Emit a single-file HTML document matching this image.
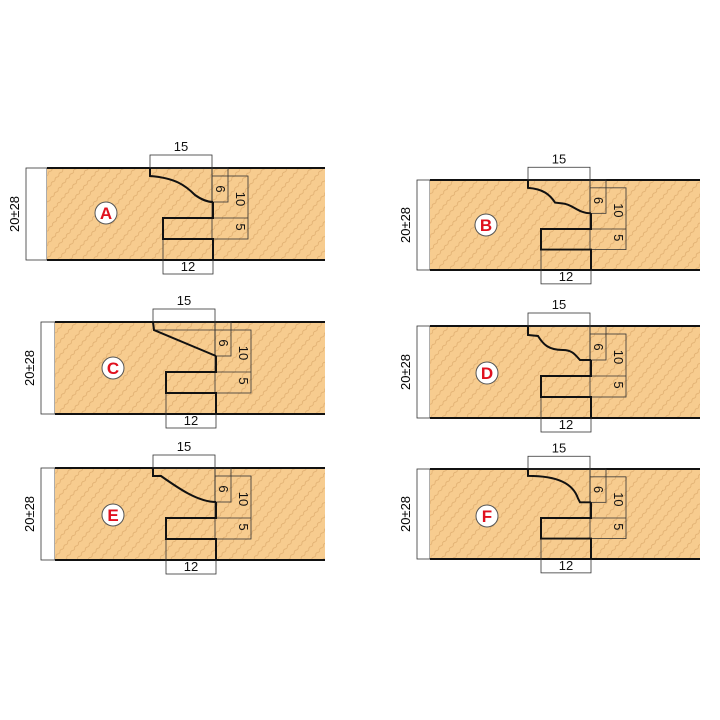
<!DOCTYPE html>
<html><head><meta charset="utf-8"><style>
html,body{margin:0;padding:0;background:#fff;}
svg{display:block;font-family:"Liberation Sans",sans-serif;}
</style></head><body>
<svg width="720" height="720" viewBox="0 0 720 720" xmlns="http://www.w3.org/2000/svg">
<defs>
<pattern id="w" width="12" height="9" patternUnits="userSpaceOnUse" patternTransform="rotate(-50)">
<rect width="12" height="9" fill="#f7cc8f"/>
<path d="M0,4.5 C3,2 3,7 6,4.5 C9,2 9,7 12,4.5" stroke="#dcaa6c" stroke-width="0.8" fill="none"/>
</pattern>
<g id="dims" fill="none" stroke="#333" stroke-width="0.8">
<rect x="0" y="-13" width="62" height="13"/>
<line x1="62" y1="0" x2="62" y2="34"/>
<rect x="62" y="0" width="16" height="34"/>
<rect x="62" y="8" width="36" height="63"/>
<line x1="63" y1="50" x2="98" y2="50"/>
<rect x="13" y="71" width="50" height="35"/>
</g>
<g id="labels" font-size="13" fill="#111">
<text x="31" y="-17" text-anchor="middle">15</text>
<text x="38" y="103" text-anchor="middle">12</text>
<text transform="translate(66,21) rotate(90)" text-anchor="middle">6</text>
<text transform="translate(86,31) rotate(90)" text-anchor="middle">10</text>
<text transform="translate(86,59) rotate(90)" text-anchor="middle">5</text>
</g>
<path id="lower" d="M63,34 L63,50 L13,50 L13,71 L63,71 L63,92" fill="none" stroke="#111" stroke-width="2"/>
</defs>

<!-- A -->
<g>
<rect x="26" y="168" width="21" height="92" fill="#fff" stroke="#333" stroke-width="0.8"/>
<rect x="47" y="168" width="278" height="92" fill="url(#w)"/>
<line x1="47" y1="168" x2="325" y2="168" stroke="#111" stroke-width="2"/>
<line x1="47" y1="260" x2="325" y2="260" stroke="#111" stroke-width="2"/>
<text transform="translate(19,214) rotate(-90)" text-anchor="middle" font-size="13">20±28</text>
<g transform="translate(150,168)">
<use href="#dims"/><use href="#labels"/><use href="#lower"/>
<path d="M0,0 L0,8 C25,10 35,17 45,27 C52,32 58,34 63,34" fill="none" stroke="#111" stroke-width="2"/>
</g>
<circle cx="106" cy="213" r="11" fill="#fff" stroke="#555"/>
<text x="106" y="219" text-anchor="middle" font-size="17" font-weight="bold" fill="#e0101e">A</text>
</g>

<!-- B -->
<g>
<rect x="417" y="180" width="13" height="90" fill="#fff" stroke="#333" stroke-width="0.8"/>
<rect x="430" y="180" width="270" height="90" fill="url(#w)"/>
<line x1="430" y1="180" x2="700" y2="180" stroke="#111" stroke-width="2"/>
<line x1="430" y1="270" x2="700" y2="270" stroke="#111" stroke-width="2"/>
<text transform="translate(410,225) rotate(-90)" text-anchor="middle" font-size="13">20±28</text>
<g transform="translate(528,180) scale(1,0.98)">
<use href="#dims"/><use href="#labels"/><use href="#lower"/>
<path d="M0,0 L0,8 C15,9 22,15 27,23 L35,24 C45,25 50,34 63,34" fill="none" stroke="#111" stroke-width="2"/>
</g>
<circle cx="486" cy="225" r="11" fill="#fff" stroke="#555"/>
<text x="486" y="231" text-anchor="middle" font-size="17" font-weight="bold" fill="#e0101e">B</text>
</g>

<!-- C -->
<g>
<rect x="41" y="322" width="14" height="92" fill="#fff" stroke="#333" stroke-width="0.8"/>
<rect x="55" y="322" width="270" height="92" fill="url(#w)"/>
<line x1="55" y1="322" x2="325" y2="322" stroke="#111" stroke-width="2"/>
<line x1="55" y1="414" x2="325" y2="414" stroke="#111" stroke-width="2"/>
<text transform="translate(34,368) rotate(-90)" text-anchor="middle" font-size="13">20±28</text>
<g transform="translate(153,322)">
<use href="#dims"/><use href="#labels"/><use href="#lower"/>
<line x1="2" y1="8" x2="62" y2="8" stroke="#333" stroke-width="0.8"/>
<path d="M0,0 L1,8 L63,34" fill="none" stroke="#111" stroke-width="2"/>
</g>
<circle cx="113" cy="368" r="11" fill="#fff" stroke="#555"/>
<text x="113" y="374" text-anchor="middle" font-size="17" font-weight="bold" fill="#e0101e">C</text>
</g>

<!-- D -->
<g>
<rect x="417" y="326" width="13" height="92" fill="#fff" stroke="#333" stroke-width="0.8"/>
<rect x="430" y="326" width="270" height="92" fill="url(#w)"/>
<line x1="430" y1="326" x2="700" y2="326" stroke="#111" stroke-width="2"/>
<line x1="430" y1="418" x2="700" y2="418" stroke="#111" stroke-width="2"/>
<text transform="translate(410,372) rotate(-90)" text-anchor="middle" font-size="13">20±28</text>
<g transform="translate(528,326)">
<use href="#dims"/><use href="#labels"/><use href="#lower"/>
<path d="M0,0 L0,9 L10,10 C15,18 20,24 35,24 C45,24 48,30 52,34 L63,34" fill="none" stroke="#111" stroke-width="2"/>
</g>
<circle cx="487" cy="373" r="11" fill="#fff" stroke="#555"/>
<text x="487" y="379" text-anchor="middle" font-size="17" font-weight="bold" fill="#e0101e">D</text>
</g>

<!-- E -->
<g>
<rect x="41" y="468" width="14" height="92" fill="#fff" stroke="#333" stroke-width="0.8"/>
<rect x="55" y="468" width="270" height="92" fill="url(#w)"/>
<line x1="55" y1="468" x2="325" y2="468" stroke="#111" stroke-width="2"/>
<line x1="55" y1="560" x2="325" y2="560" stroke="#111" stroke-width="2"/>
<text transform="translate(34,514) rotate(-90)" text-anchor="middle" font-size="13">20±28</text>
<g transform="translate(153,468)">
<use href="#dims"/><use href="#labels"/><use href="#lower"/>
<path d="M0,0 L0,8 L8,8 C25,20 45,34 63,34" fill="none" stroke="#111" stroke-width="2"/>
</g>
<circle cx="113" cy="515" r="11" fill="#fff" stroke="#555"/>
<text x="113" y="521" text-anchor="middle" font-size="17" font-weight="bold" fill="#e0101e">E</text>
</g>

<!-- F -->
<g>
<rect x="417" y="469" width="13" height="90" fill="#fff" stroke="#333" stroke-width="0.8"/>
<rect x="430" y="469" width="270" height="90" fill="url(#w)"/>
<line x1="430" y1="469" x2="700" y2="469" stroke="#111" stroke-width="2"/>
<line x1="430" y1="559" x2="700" y2="559" stroke="#111" stroke-width="2"/>
<text transform="translate(410,514) rotate(-90)" text-anchor="middle" font-size="13">20±28</text>
<g transform="translate(528,469) scale(1,0.98)">
<use href="#dims"/><use href="#labels"/><use href="#lower"/>
<path d="M0,0 L0,7 C30,7 45,15 50,30 L52,34 L63,34" fill="none" stroke="#111" stroke-width="2"/>
</g>
<circle cx="487" cy="516" r="11" fill="#fff" stroke="#555"/>
<text x="487" y="522" text-anchor="middle" font-size="17" font-weight="bold" fill="#e0101e">F</text>
</g>
</svg>
</body></html>
